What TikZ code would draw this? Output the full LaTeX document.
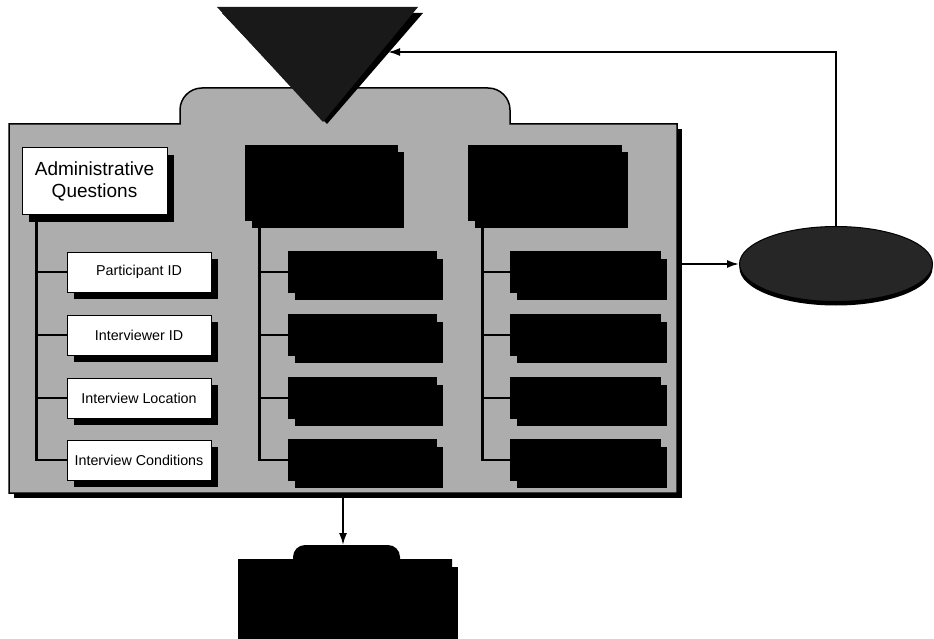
\documentclass[tikz,border=0pt]{standalone}
\usepackage{fontspec}
\setsansfont{Liberation Sans}
\usetikzlibrary{shapes.geometric,shadows,arrows.meta}
\definecolor{stipple}{gray}{0.68}
\tikzset{
  qbox/.style={draw=black, line width=1pt, fill=white, inner sep=0pt,
    font=\sffamily\fontsize{14.3}{16}\selectfont,
    drop shadow={shadow xshift=7pt, shadow yshift=-7pt, opacity=1, fill=black}},
  hbox/.style={qbox, align=center, font=\sffamily\fontsize{19}{22}\selectfont},
  blackbox/.style={qbox, fill=black},
  tree/.style={line width=2.5pt},
  link/.style={line width=1.8pt, -{Latex[length=12pt,width=8pt]}},
}
\begin{document}
\begin{tikzpicture}[x=1pt,y=-1pt]
\useasboundingbox (0,0) rectangle (934,639);

% folder with tab
\fill[black] (14,129) rectangle (682,498);
\draw[line width=1.5pt, fill=stipple] (9,493) -- (9,124) -- (180,124) [rounded corners=22pt] -- (180,88) -- (510,88) [sharp corners] -- (510,124) -- (677,124) -- (677,493) -- cycle;

% inverted triangle
\fill[black] (222,13) -- (423,13) -- (327,124) -- cycle;
\fill[black!90] (217,7) -- (418,7) -- (323,122) -- cycle;
\coordinate (tri) at (388,52);

% headings
\node[hbox, minimum width=145pt, minimum height=67pt] (adm) at (94.5,181.5) {Administrative\\Questions};
\node[blackbox, minimum width=152pt, minimum height=75pt] (hdb) at (321,183) {};
\node[blackbox, minimum width=153pt, minimum height=75pt] (hdc) at (544.5,183) {};

% question boxes
\foreach \y/\name/\txt in {272/pid/Participant ID, 335/iid/Interviewer ID,
    398/loc/Interview Location, 460/cond/Interview Conditions} {
  \node[qbox, minimum width=144pt, minimum height=40pt] (\name) at (139,\y) {\txt};
}
\foreach \y [count=\i] in {272,335,398,460} {
  \node[blackbox, minimum width=148pt, minimum height=41pt] (b\i) at (362,\y) {};
  \node[blackbox, minimum width=150pt, minimum height=41pt] (c\i) at (585,\y) {};
}

% trees
\draw[tree] ([xshift=15pt]adm.south west) |- (cond.west);
\foreach \n in {pid,iid,loc} \draw[tree] (\n.west) -- ++(-30,0);
\draw[tree] ([xshift=15pt]hdb.south west) |- (b4.west);
\foreach \i in {1,2,3} \draw[tree] (b\i.west) -- ++(-28,0);
\draw[tree] ([xshift=15pt]hdc.south west) |- (c4.west);
\foreach \i in {1,2,3} \draw[tree] (c\i.west) -- ++(-27,0);

% ellipse
\node[ellipse, draw=black, line width=1pt, fill=black!85, minimum width=193pt, minimum height=75pt, inner sep=0pt,
  drop shadow={shadow xshift=0pt, shadow yshift=-4pt, opacity=1, fill=black}] (ell) at (836,264) {};
\coordinate (fr) at (682,264);
\draw[link] (fr) -- (ell.west);
\draw[line width=1.8pt] (ell.north) |- ([xshift=8pt]tri);
\draw[link] ([xshift=10pt]tri) -- (tri);

% lower folder
\coordinate (fb) at (343,498);
\coordinate (lf) at (343,545);
\draw[link] (fb) -- (lf);
\fill[black] (244,567) rectangle (458,645);
\fill[black] (238,645) -- (238,559) -- (293,559) [rounded corners=12pt] -- (293,545) -- (400,545) [sharp corners] -- (400,559) -- (452,559) -- (452,645) -- cycle;
\end{tikzpicture}
\end{document}
